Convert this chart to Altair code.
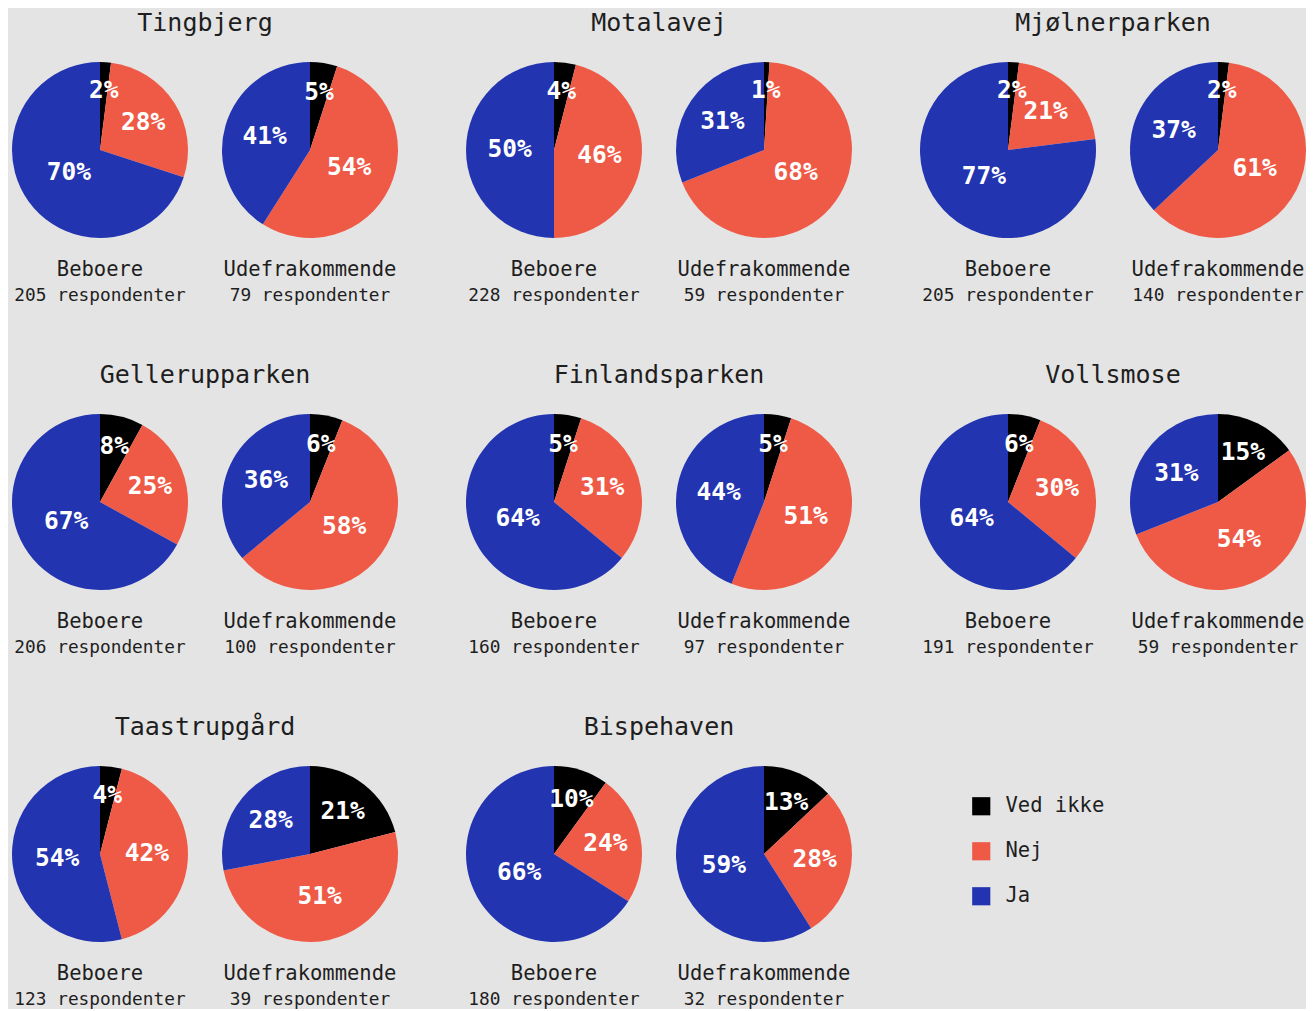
import altair as alt
import pandas as pd
import math

# ---- data ----
neighbourhoods = ["Tingbjerg", "Motalavej", "Mjølnerparken",
                  "Gellerupparken", "Finlandsparken", "Vollsmose",
                  "Taastrupgård", "Bispehaven"]
groups = ["Beboere", "Udefrakommende"]
categories = ["Ved ikke", "Nej", "Ja"]
colors = ["#000000", "#EF5A47", "#2234B0"]

# respondents per neighbourhood: [Beboere, Udefrakommende]
respondents = [
    [205, 79], [228, 59], [205, 140],
    [206, 100], [160, 97], [191, 59],
    [123, 39], [180, 32],
]
# percentages [Ved ikke, Nej, Ja] for Beboere
pct_beboere = [
    [2, 28, 70], [4, 46, 50], [2, 21, 77],
    [8, 25, 67], [5, 31, 64], [6, 30, 64],
    [4, 42, 54], [10, 24, 66],
]
# percentages [Ved ikke, Nej, Ja] for Udefrakommende
pct_udefra = [
    [5, 54, 41], [1, 68, 31], [2, 61, 37],
    [6, 58, 36], [5, 51, 44], [15, 54, 31],
    [21, 51, 28], [13, 28, 59],
]

MONO = "DejaVu Sans Mono"
TXT = "#1e1e1e"
BG = "#E4E4E4"
R = 88
SIZE = 176

color_enc = alt.Color(
    "cat:N",
    scale=alt.Scale(domain=categories, range=colors),
    legend=alt.Legend(
        title=None, orient="none", legendX=959, legendY=734,
        symbolType="square", symbolSize=330, symbolStrokeWidth=0,
        symbolOpacity=1, labelFont=MONO, labelFontSize=20.5, labelColor=TXT,
        labelOffset=14, rowPadding=24, labelLimit=300,
    ),
)


def pie(nb_idx, g_idx):
    pcts = pct_beboere[nb_idx] if g_idx == 0 else pct_udefra[nb_idx]
    rows = []
    for k, (c, p) in enumerate(zip(categories, pcts)):
        rows.append({"cat": c, "pct": p, "ord": k, "lbl": f"{p}%"})
    df = pd.DataFrame(rows)
    arc = alt.Chart(df).mark_arc(outerRadius=R).encode(
        theta=alt.Theta("pct:Q", stack=True),
        order=alt.Order("ord:Q"),
        color=color_enc,
    )
    txt = alt.Chart(df).transform_stack(
        stack="pct", as_=["t0", "t1"], groupby=[],
        sort=[alt.SortField("ord", order="ascending")],
    ).transform_calculate(
        mid="(datum.t0 + datum.t1) / 2",
        lr="59.5 - 0.3 * datum.pct",
    ).mark_text(
        font=MONO, fontWeight="bold", fontSize=24.5, color="white",
        align="center", baseline="middle",
    ).encode(
        theta=alt.Theta("mid:Q", stack=None,
                        scale=alt.Scale(domain=[0, 100], range=[0, 2 * math.pi])),
        radius=alt.Radius("lr:Q", scale=None),
        text="lbl:N",
    )
    return alt.layer(arc, txt).properties(
        width=SIZE, height=SIZE,
        title=alt.TitleParams(
            text=groups[g_idx],
            subtitle=f"{respondents[nb_idx][g_idx]} respondenter",
            orient="bottom", anchor="middle",
            font=MONO, fontSize=20.5, fontWeight="normal", color=TXT,
            subtitleFont=MONO, subtitleFontSize=17.8, subtitleColor=TXT,
            subtitlePadding=6, offset=22,
        ),
    )


def group(nb_idx):
    return alt.hconcat(
        pie(nb_idx, 0), pie(nb_idx, 1), spacing=34,
        title=alt.TitleParams(
            text=neighbourhoods[nb_idx], anchor="middle",
            font=MONO, fontSize=25, fontWeight="normal", color=TXT,
            offset=26.5,
        ),
    )


row1 = alt.hconcat(group(0), group(1), group(2), spacing=68)
row2 = alt.hconcat(group(3), group(4), group(5), spacing=68)
row3 = alt.hconcat(group(6), group(7), spacing=68)

chart = alt.vconcat(row1, row2, row3, spacing=57).properties(
    padding={"left": 4, "top": 2, "right": 0, "bottom": 0},
    background=BG,
).configure_view(stroke=None)

chart.save("out.html", embed_options={"renderer": "svg", "actions": False})
